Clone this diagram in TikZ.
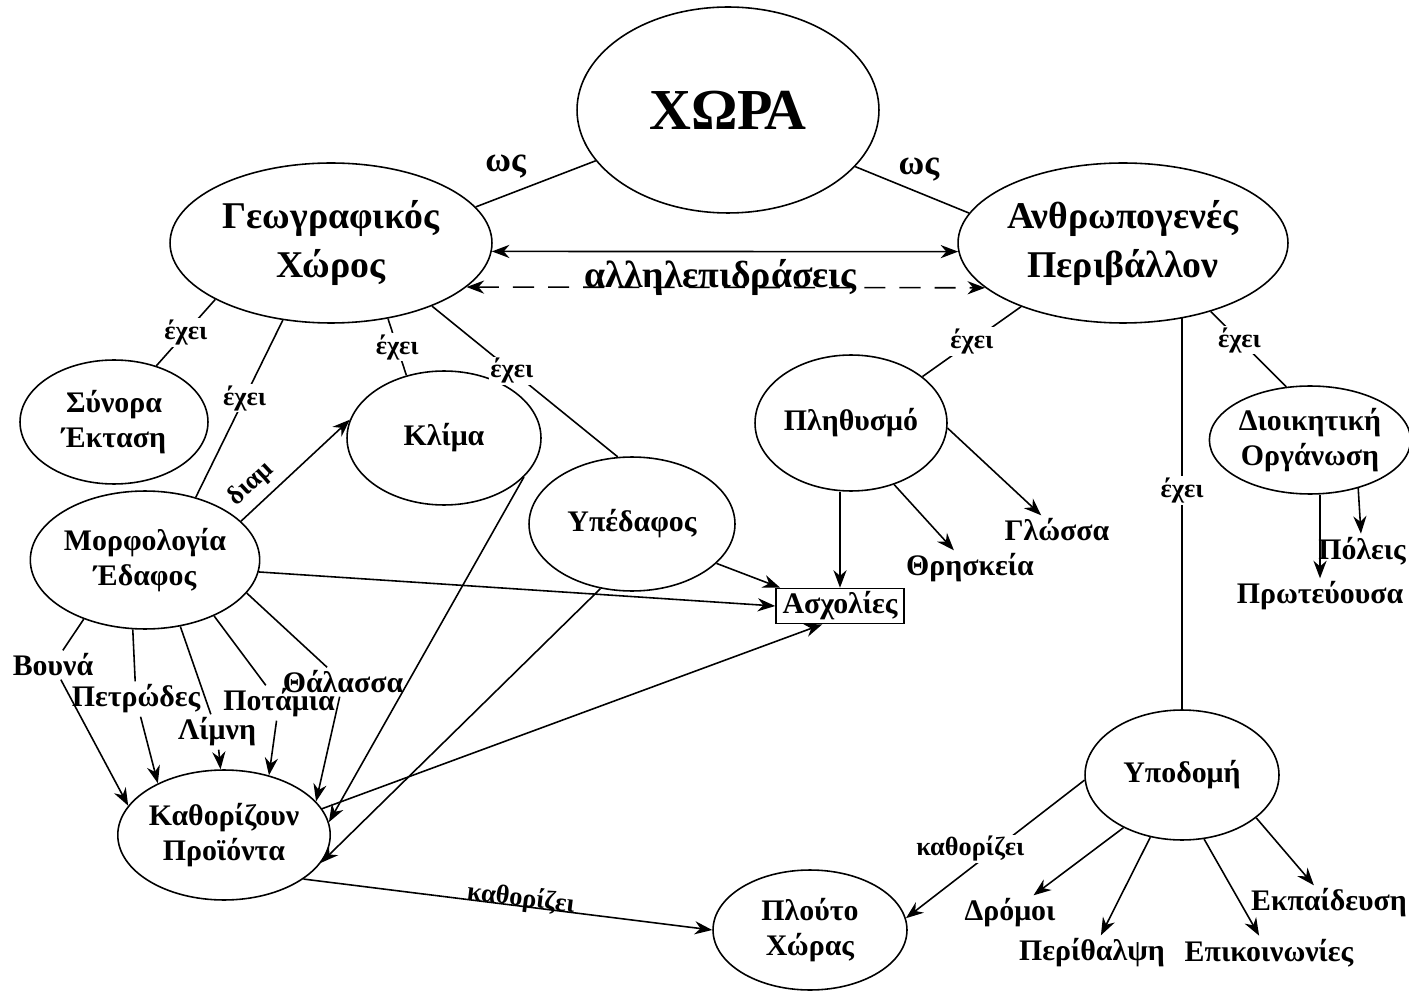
\documentclass[tikz,border=0pt]{standalone}
\usepackage{fontspec}
\setmainfont{Liberation Serif}
\usetikzlibrary{shapes.geometric,arrows.meta}

\begin{document}
\begin{tikzpicture}[x=0.02cm, y=-0.02cm, line width=0.9pt,
  >={Stealth[length=10pt, width=7.5pt]},
  font=\bfseries\fontsize{17}{19.5}\selectfont,
  ell/.style={draw, ellipse, inner sep=0pt, align=center},
  leaf/.style={inner sep=1.5pt, align=center},
  lab/.style={fill=white, inner sep=1pt, font=\bfseries\fontsize{15}{17}\selectfont},
  big/.style={font=\bfseries\fontsize{21.5}{28}\selectfont}]
  \useasboundingbox (0,0) rectangle (1409,996);

  % Country
  \node[ell, minimum width=6.04cm, minimum height=4.12cm, font=\bfseries\fontsize{33}{36}\selectfont] (xora) at (728,110) {ΧΩΡΑ};
  \node[ell, big, minimum width=6.44cm, minimum height=3.2cm] (geo) at (331,243) {Γεωγραφικός\\Χώρος};
  \node[ell, big, minimum width=6.6cm, minimum height=3.2cm] (anthr) at (1123,243) {Ανθρωπογενές\\Περιβάλλον};

  % Geographic space
  \node[ell, minimum width=3.76cm, minimum height=2.48cm] (synora) at (114,422) {Σύνορα\\Έκταση};
  \node[ell, minimum width=3.88cm, minimum height=2.68cm] (klima) at (444,438) {Κλίμα};
  \node[ell, minimum width=4.12cm, minimum height=2.68cm] (yped) at (632,524) {Υπέδαφος};
  \node[ell, minimum width=3.84cm, minimum height=2.76cm] (morf) at (145,560) {Μορφολογία\\Έδαφος};
  \node[ell, minimum width=3.84cm, minimum height=2.6cm] (kath) at (224,835) {Καθορίζουν\\Προϊόντα};
  \node[ell, minimum width=3.88cm, minimum height=2.4cm] (plouto) at (810,930) {Πλούτο\\Χώρας};
  \node[draw, minimum width=2.56cm, minimum height=0.7cm, inner sep=1pt] (asch) at (840,606) {Ασχολίες};

  % Human environment
  \node[ell, minimum width=3.84cm, minimum height=2.72cm] (plith) at (851,423) {Πληθυσμό};
  \node[ell, minimum width=3.88cm, minimum height=2.16cm] (dioik) at (1310,440) {Διοικητική\\Οργάνωση};
  \node[ell, minimum width=3.88cm, minimum height=2.6cm] (ypod) at (1182,775) {Υποδομή};

  % Leaves
  \node[leaf] (vouna) at (53,665) {Βουνά};
  \node[leaf] (petr) at (136,699) {Πετρώδες};
  \node[leaf] (limni) at (217,732) {Λίμνη};
  \node[leaf] (potam) at (279,703) {Ποτάμια};
  \node[leaf] (thal) at (343,682) {Θάλασσα};
  \node[leaf] (thrisk) at (970,568) {Θρησκεία};
  \node[leaf] (gloss) at (1057,530) {Γλώσσα};
  \node[leaf] (poleis) at (1362,551) {Πόλεις};
  \node[leaf] (protev) at (1320,596) {Πρωτεύουσα};
  \node[leaf] (dromoi) at (1010,913) {Δρόμοι};
  \node[leaf] (perith) at (1092,953) {Περίθαλψη};
  \node[leaf] (epik) at (1269,953) {Επικοινωνίες};
  \node[leaf] (ekp) at (1329,903) {Εκπαίδευση};

  % Top links
  \draw (xora.201) -- (geo.14) node[pos=0.75, above=6pt, font=\bfseries\fontsize{20}{22}\selectfont] {ως};
  \draw (xora.336) -- (anthr.169) node[pos=0.56, above=3pt, font=\bfseries\fontsize{20}{22}\selectfont] {ως};
  \draw[<->] (geo.-3.6) -- (anthr.183.6);
  \draw[<->, dash pattern=on 12pt off 8pt] (geo.-18.7) -- (anthr.198.7)
    node[midway, anchor=base, xshift=-3pt, font=\bfseries\fontsize{21.5}{22}\selectfont] {αλληλεπιδράσεις};

  % has
  \draw (geo.206) -- (synora.53) node[lab, midway] {έχει};
  \draw (geo.238) -- (morf.51) node[lab, pos=0.44] {έχει};
  \draw (geo.307) -- (klima.121) node[lab, midway] {έχει};
  \draw (geo.-32) -- (yped.102) node[lab, pos=0.43] {έχει};
  \draw (anthr.212) -- (plith.33) node[lab, midway] {έχει};
  \draw (anthr.-38) -- (dioik.114) node[lab, pos=0.38] {έχει};
  \draw (ypod.north) -- (ypod.north |- anthr.309) node[lab, pos=0.56] {έχει};

  % Morphology
  \draw[->] (morf.22) -- (klima.169) node[pos=0.22, sloped, above=1pt, font=\bfseries\fontsize{15}{17}\selectfont] {διαμ};
  \draw[->] (morf.-6) -- (asch.west);
  \draw[->] (yped.-25) -- (asch.163);
  \draw[->] (plith.south -| asch.north) -- (asch.north);
  \draw[->] (kath.15) -- (asch.226);
  \draw[->] (klima.-26) -- (kath.7);
  \draw[->] (yped.244) -- (kath.-16);
  \draw (morf.224) -- (vouna);
  \draw[->] (vouna) -- (kath.163);
  \draw (morf.260) -- (petr);
  \draw[->] (petr) -- (kath.142);
  \draw (morf.298) -- (limni);
  \draw[->] (limni) -- (kath.93);
  \draw (morf.-39) -- (potam);
  \draw[->] (potam) -- (kath.53);
  \draw (morf.-18) -- (thal);
  \draw[->] (thal) -- (kath.20);

  % Population, administration
  \draw[->] (plith.-55) -- (thrisk);
  \draw[->] (plith.-3) -- (gloss);
  \draw[->] (protev.north |- dioik.south) -- (protev.north);
  \draw[->] (dioik.-45) -- (poleis);

  % Infrastructure
  \draw[->] (ypod.183) -- (plouto.7) node[lab, pos=0.6, xshift=-4pt, yshift=8pt] {καθορίζει};
  \draw[->] (ypod.222) -- (dromoi);
  \draw[->] (ypod.243) -- (perith);
  \draw[->] (ypod.289) -- (epik);
  \draw[->] (ypod.-30) -- (ekp);
  \draw[->] (kath.-29) -- (plouto.west) node[pos=0.53, sloped, anchor=base, font=\bfseries\fontsize{15}{17}\selectfont] {καθορίζει};
\end{tikzpicture}
\end{document}
